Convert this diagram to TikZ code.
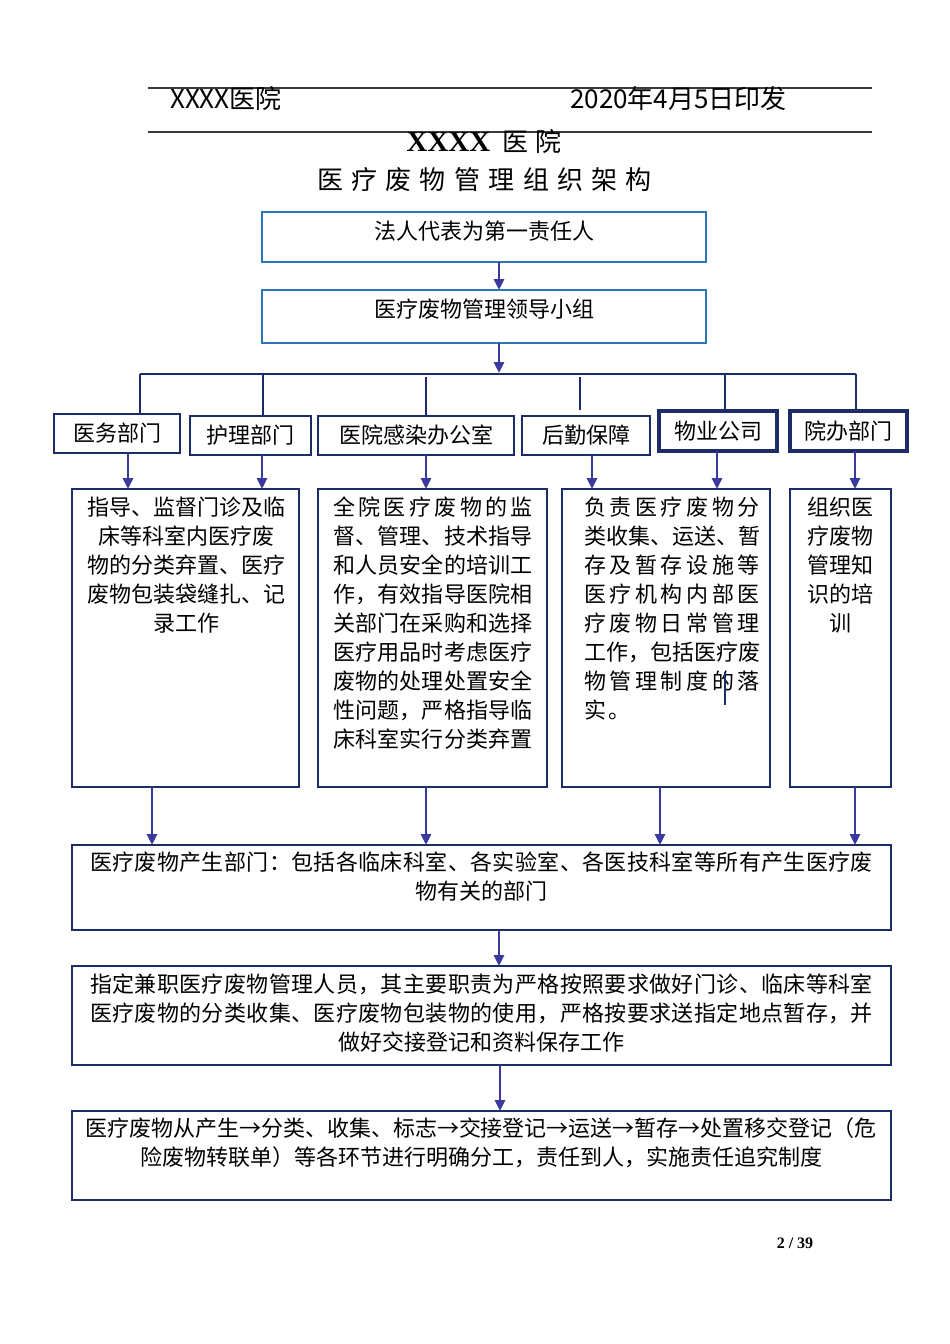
\documentclass[tikz,border=0pt]{standalone}
\usepackage{fontspec}
\setmainfont{Noto Sans CJK SC}
\newfontfamily\serifb{Liberation Serif}
\usetikzlibrary{arrows.meta}
\definecolor{topblue}{HTML}{2E75B6}
\definecolor{navy}{HTML}{1C2C66}
\definecolor{arrowc}{HTML}{3A3A9E}
\definecolor{rulegray}{HTML}{3A3A3A}
\makeatletter
\newcommand\jl[1]{\makebox[\linewidth][s]{\@tfor\jc:=#1\do{\jc\hfil}\unskip}}
\newcommand\jw[2]{\makebox[#1][s]{\@tfor\jc:=#2\do{\jc\hfil}\unskip}}
\makeatother
% W H leftpad textW firstbaseline content
\newcommand\bx[6]{\parbox[c][#2][t]{#1}{\hspace*{#3}\parbox[t]{#4}{\fontsize{22}{29}\selectfont\centering\rule{0pt}{#5}#6}}}
\tikzset{
  boxbase/.style={inner sep=0pt, outer sep=0pt, anchor=north west},
  topbox/.style={boxbase, draw=topblue, line width=2.8pt},
  deptbox/.style={boxbase, draw=navy, line width=2.6pt, font=\fontsize{22}{26}\selectfont, align=center},
  deptthick/.style={deptbox, line width=4pt},
  midbox/.style={boxbase, draw=navy, line width=2.6pt},
  arr/.style={draw=arrowc, line width=2.8pt, -{Triangle[length=11pt,width=10pt]}},
  conn/.style={draw=navy, line width=2.2pt},
  hrule/.style={draw=rulegray, line width=1.8pt},
}
\begin{document}
\begin{tikzpicture}[x=1pt,y=-1pt]
\useasboundingbox[fill=white] (0,0) rectangle (950,1344);
% header
\coordinate (h1a) at (148,88); \coordinate (h1b) at (872,88);
\coordinate (h2a) at (148,132); \coordinate (h2b) at (872,132);
\draw[hrule] (h1a) -- (h1b);
\draw[hrule] (h2a) -- (h2b);
\node[anchor=west, inner sep=0pt, font=\fontsize{26}{30}\selectfont] (hl) at (170,99) {XXXX医院};
\node[anchor=west, inner sep=0pt, font=\fontsize{26}{30}\selectfont] (hr) at (570,99) {2020年4月5日印发};
% title
\node[inner sep=0pt, font=\fontsize{26}{30}\selectfont] (t1) at (484,142) {{\serifb\bfseries\fontsize{29}{30}\selectfont XXXX}\hspace{12pt}医\hspace{7pt}院};
\node[inner sep=0pt, font=\fontsize{26}{30}\selectfont] (t2) at (484.5,180) {\jw{335pt}{医疗废物管理组织架构}};
% top boxes
\node[topbox] (b1) at (262,212) {\bx{444pt}{50pt}{0pt}{444pt}{27pt}{法人代表为第一责任人}};
\node[topbox] (b2) at (262,290) {\bx{444pt}{53pt}{0pt}{444pt}{27pt}{医疗废物管理领导小组}};
% departments
\node[deptbox, minimum width=126pt, minimum height=39pt] (d1) at (54,414) {医务部门};
\node[deptbox, minimum width=121pt, minimum height=39pt] (d2) at (190,416) {护理部门};
\node[deptbox, minimum width=196pt, minimum height=39pt] (d3) at (318,416) {医院感染办公室};
\node[deptbox, minimum width=128pt, minimum height=39pt] (d4) at (522,416) {后勤保障};
\node[deptthick, minimum width=118pt, minimum height=40pt] (d5) at (659,411) {物业公司};
\node[deptthick, minimum width=117pt, minimum height=40pt] (d6) at (790,411) {院办部门};
% middle boxes
\node[midbox] (mA) at (72,489) {\bx{227pt}{298pt}{15pt}{198pt}{26pt}{\jl{指导、监督门诊及临}\\床等科室内医疗废\\\jl{物的分类弃置、医疗}\\\jl{废物包装袋缝扎、记}\\录工作}};
\node[midbox] (mB) at (318,489) {\bx{229pt}{298pt}{15pt}{200pt}{26pt}{\jl{全院医疗废物的监}\\\jl{督、管理、技术指导}\\\jl{和人员安全的培训工}\\\jl{作，有效指导医院相}\\\jl{关部门在采购和选择}\\\jl{医疗用品时考虑医疗}\\\jl{废物的处理处置安全}\\\jl{性问题，严格指导临}\\\jl{床科室实行分类弃置}}};
\node[midbox] (mC) at (562,489) {\bx{208pt}{298pt}{22pt}{176pt}{26pt}{\jl{负责医疗废物分}\\\jl{类收集、运送、暂}\\\jl{存及暂存设施等}\\\jl{医疗机构内部医}\\\jl{疗废物日常管理}\\\jl{工作，包括医疗废}\\\jl{物管理制度的落}\\\makebox[\linewidth][l]{实\hspace{3pt}。}}};
\node[midbox] (mD) at (790,489) {\bx{101pt}{298pt}{0pt}{101pt}{26pt}{组织医\\疗废物\\管理知\\识的培\\训}};
% lower boxes
\node[midbox] (E) at (72,845) {\bx{819pt}{85pt}{18pt}{783pt}{25pt}{\jl{医疗废物产生部门：包括各临床科室、各实验室、各医技科室等所有产生医疗废}\\物有关的部门}};
\node[midbox] (F) at (72,966) {\bx{819pt}{99pt}{18pt}{783pt}{26pt}{\jl{指定兼职医疗废物管理人员，其主要职责为严格按照要求做好门诊、临床等科室}\\\jl{医疗废物的分类收集、医疗废物包装物的使用，严格按要求送指定地点暂存，并}\\做好交接登记和资料保存工作}};
\node[midbox] (G) at (72,1111) {\bx{819pt}{89pt}{13pt}{792pt}{25pt}{\jl{医疗废物从产生→分类、收集、标志→交接登记→运送→暂存→处置移交登记（危}\\险废物转联单）等各环节进行明确分工，责任到人，实施责任追究制度}};
% x guides
\coordinate (x499) at (499,0);
\coordinate (x500) at (500,0);
\coordinate (x128) at (128,0);
\coordinate (x262) at (262,0);
\coordinate (x426) at (426,0);
\coordinate (x592) at (592,0);
\coordinate (x717) at (717,0);
\coordinate (x855) at (855,0);
\coordinate (x152) at (152,0);
\coordinate (x660) at (660,0);
% bus
\coordinate (busL) at (140,374);
\coordinate (busR) at (856,374);
\coordinate (busM) at (499,373);
\coordinate (j2) at (263,374);
\coordinate (j3) at (426,377);
\coordinate (j4) at (580,377);
\coordinate (j4e) at (580,410);
\coordinate (j5) at (725,374);
% connectors
\draw[arr] (b1.south -| x499) -- (b2.north -| x499);
\draw[arr] (b2.south -| x499) -- (busM);
\draw[conn, line width=2.8pt] (busL) -- (busR);
\draw[conn] (busL) -- (d1.north -| busL);
\draw[conn] (j2) -- (d2.north -| j2);
\draw[conn, line width=2.8pt] (j3) -- (d3.north -| j3);
\draw[conn] (j4) -- (j4e);
\draw[conn] (j5) -- (d5.north -| j5);
\draw[conn] (busR) -- (d6.north -| busR);
\draw[arr] (d1.south -| x128) -- (mA.north -| x128);
\draw[arr] (d2.south -| x262) -- (mA.north -| x262);
\draw[arr] (d3.south -| x426) -- (mB.north -| x426);
\draw[arr] (d4.south -| x592) -- (mC.north -| x592);
\draw[arr] (d5.south -| x717) -- (mC.north -| x717);
\draw[arr] (d6.south -| x855) -- (mD.north -| x855);
\draw[arr] (mA.south -| x152) -- (E.north -| x152);
\draw[arr] (mB.south -| x426) -- (E.north -| x426);
\draw[arr] (mC.south -| x660) -- (E.north -| x660);
\draw[arr] (mD.south -| x855) -- (E.north -| x855);
\draw[arr] (E.south -| x499) -- (F.north -| x499);
\draw[arr] (F.south -| x500) -- (G.north -| x500);
% stray mark
\coordinate (s1) at (725,672);
\coordinate (s2) at (725,705);
\draw[conn, line width=2pt] (s1) -- (s2);
% page number
\node[inner sep=0pt, font=\serifb\bfseries\fontsize{16}{18}\selectfont] (pg) at (795,1243) {2 / 39};
\end{tikzpicture}
\end{document}
